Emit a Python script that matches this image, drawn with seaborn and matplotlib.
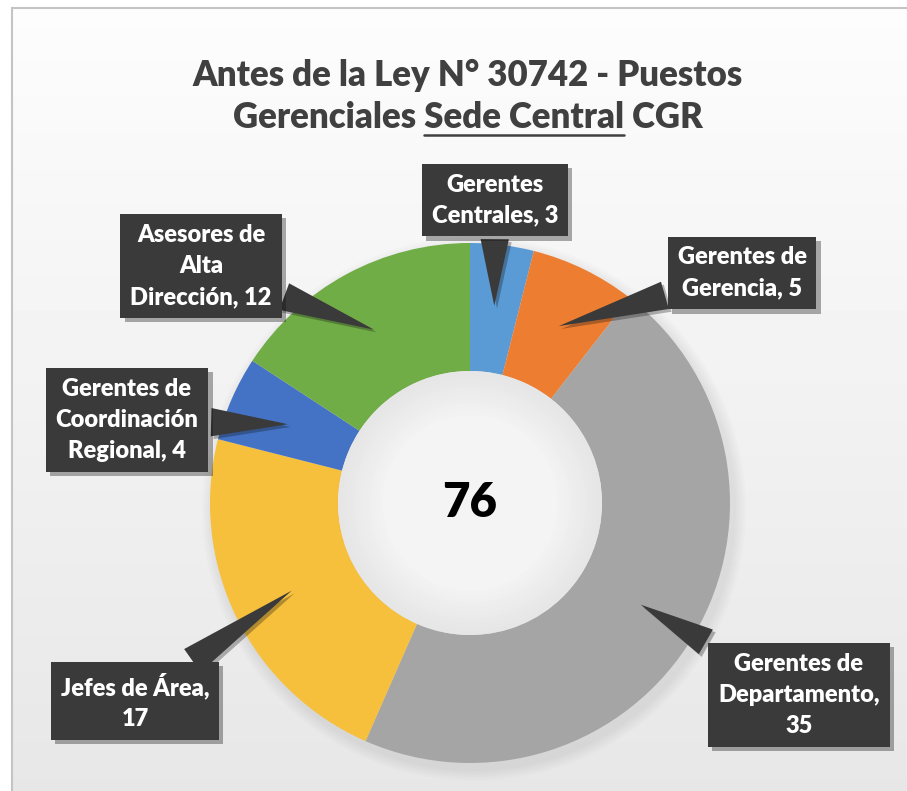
import numpy as np
import seaborn as sns
import matplotlib.pyplot as plt
import matplotlib.patheffects as pe
from matplotlib.patches import Circle, Rectangle

sns.set_theme(style="white")
plt.rcParams["font.family"] = ["Lato", "DejaVu Sans"]

# slices, clockwise from 12 o'clock
categories = ["Gerentes\nCentrales", "Gerentes de\nGerencia",
              "Gerentes de\nDepartamento,\n", "Jefes de Área,\n",
              "Gerentes de\nCoordinación\nRegional", "Asesores de\nAlta\nDirección"]
values = [3, 5, 35, 17, 4, 12]
colors = ["#5b9bd5", "#ed7d31", "#a5a5a5", "#f6bf3c", "#4472c4", "#70ad47"]

# callout box centres in figure pixels (top-left origin)
box_pos = [(495, 200), (742, 273), (799, 695), (135, 701),
           (127, 420), (201, 266)]

W, H = 907, 791
cx, cy = 470, 503
r_out, r_in = 260, 132

fig = plt.figure(figsize=(W / 100, H / 100), dpi=100)
ax = fig.add_axes([0, 0, 1, 1])
ax.set_xlim(0, W)
ax.set_ylim(0, H)
ax.set_aspect("equal")
ax.axis("off")

# soft background gradient
grad = np.linspace(0.99, 0.905, 256).reshape(-1, 1)
ax.imshow(grad, cmap="gray", vmin=0, vmax=1, extent=(12, W, 0, H - 8),
          aspect="auto", zorder=0)
ax.add_patch(Rectangle((12, -5), W, H - 8 + 5, fill=False,
                       ec="#c4c4c4", lw=1.5, zorder=1))

# faint shadow under the ring
for k in range(6):
    ax.add_patch(Circle((cx + 4, H - cy - 6), r_out + 2 + k * 2,
                        fc="black", ec="none", alpha=0.012, zorder=1))

wedges, _ = ax.pie(values, colors=colors, startangle=90, counterclock=False,
                   center=(cx, H - cy), radius=r_out, frame=True,
                   wedgeprops=dict(width=r_out - r_in, linewidth=0))
for w in wedges:
    w.set_zorder(2)

# centre hole with light shading
for k, c in enumerate(np.linspace(0.90, 0.955, 12)):
    ax.add_patch(Circle((cx, H - cy), r_in - k * 4, fc=str(c),
                        ec="none", zorder=3))
ax.text(cx, H - cy, str(sum(values)), ha="center", va="center",
        fontsize=34, fontweight="heavy", color="black", zorder=4)

# title
tkw = dict(fontsize=25, fontweight="heavy", color="#404040")
ax.text(468, H - 75, "Antes de la Ley N° 30742 - Puestos", ha="center",
        va="center", **tkw)
t2 = ax.text(468, H - 118, "Gerenciales Sede Central CGR", ha="center",
             va="center", **tkw)
fig.canvas.draw()
bb = t2.get_window_extent()
pre = ax.text(0, 0, "Gerenciales ", **tkw)
mid = ax.text(0, 0, "Sede Central", **tkw)
fig.canvas.draw()
w_pre = pre.get_window_extent().width
w_mid = mid.get_window_extent().width
pre.remove()
mid.remove()
ax.plot([bb.x0 + w_pre, bb.x0 + w_pre + w_mid], [H - 135, H - 135],
        color="#404040", lw=1.8)

# callouts
for w, cat, val, (bx, by) in zip(wedges, categories, values, box_pos):
    ang = np.deg2rad((w.theta1 + w.theta2) / 2)
    rm = (r_out + r_in) / 2
    tip = (cx + rm * np.cos(ang), H - cy + rm * np.sin(ang))
    if cat.endswith("\n"):
        label = f"{cat}{val}"
    else:
        label = f"{cat}, {val}"
    ann = ax.annotate(
        label, xy=tip, xytext=(bx, H - by), ha="center", va="center",
        fontsize=17, fontweight="heavy", color="white", linespacing=1.5,
        bbox=dict(boxstyle="square,pad=0.42", fc="#3a3a3a", ec="none"),
        arrowprops=dict(arrowstyle="wedge,tail_width=1.2,shrink_factor=0.5",
                        fc="#3a3a3a", ec="none"),
        zorder=5)
    ann.get_bbox_patch().set_path_effects(
        [pe.SimplePatchShadow(offset=(3, -3), alpha=0.35), pe.Normal()])
    ann.arrow_patch.set_path_effects(
        [pe.SimplePatchShadow(offset=(2, -2), alpha=0.3), pe.Normal()])

fig.savefig("out.png", dpi=100)
